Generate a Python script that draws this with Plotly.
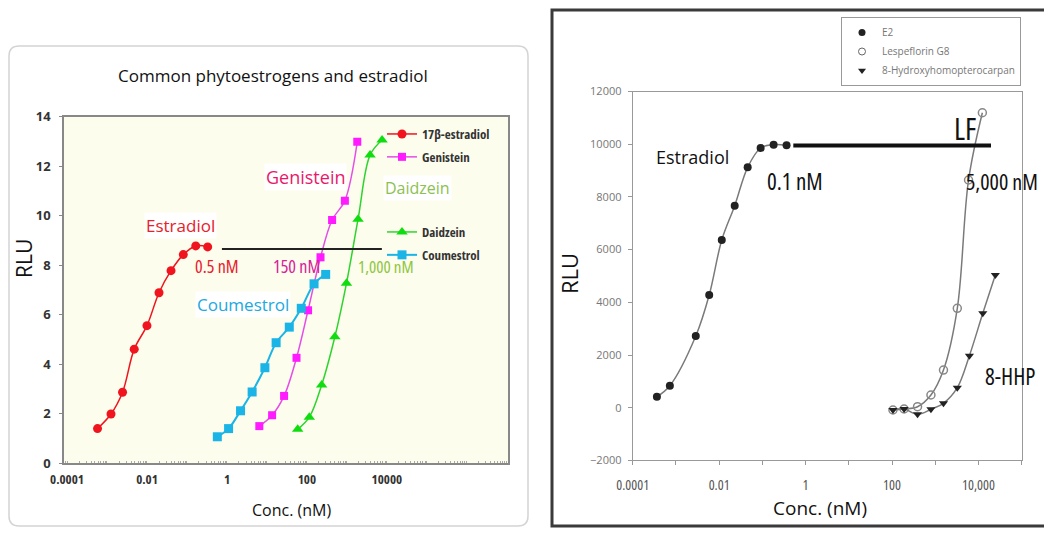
import plotly.graph_objects as go

# The page body adds an 8px margin, so the figure is laid out 8px inside the window.
OFF = 8
W, H = 1052 - 2 * OFF, 536 - 2 * OFF

# ---------------- Left panel data ----------------
estradiol_x = [0.00058, 0.00126, 0.00245, 0.0048, 0.01, 0.02, 0.04, 0.081, 0.166, 0.33]
estradiol_y = [1.39, 1.98, 2.86, 4.6, 5.55, 6.88, 7.77, 8.42, 8.77, 8.73]

genistein_x = [6.46, 13.5, 26.9, 55, 107, 219, 427, 891, 1820]
genistein_y = [1.49, 1.93, 2.71, 4.25, 6.17, 8.31, 9.82, 10.6, 12.98]

daidzein_x = [58.9, 115, 234, 501, 977, 1905, 3800, 7590]
daidzein_y = [1.36, 1.85, 3.15, 5.1, 7.26, 9.85, 12.44, 13.05]

coumestrol_x = [0.575, 1.1, 2.19, 4.27, 8.9, 17, 36.3, 72.4, 151, 295]
coumestrol_y = [1.06, 1.39, 2.11, 2.87, 3.85, 4.86, 5.49, 6.25, 7.24, 7.62]

ref_left_x = [0.75, 7500]
ref_left_y = [8.65, 8.65]

left_tickvals = [1e-4, 1e-2, 1, 1e2, 1e4]
left_ticktext = ["0.0001", "0.01", "1", "100", "10000"]

# ---------------- Right panel data ----------------
e2_x = [0.000363, 0.000724, 0.00288, 0.00589, 0.0115, 0.0229, 0.0457, 0.0912, 0.182, 0.363]
e2_y = [417, 835, 2721, 4277, 6364, 7666, 9123, 9856, 9981, 9958]

lf_x = [105, 190, 389, 794, 1549, 3236, 5888, 12300]
lf_y = [-87, -49, 38, 482, 1430, 3772, 8641, 11194]

hhp_x = [105, 190, 389, 794, 1549, 3236, 6166, 12590, 24550]
hhp_y = [-87, -49, -250, -61, 167, 759, 1973, 3582, 5036]

ref_right_x = [0.52, 19500]
ref_right_y = [9950, 9950]

right_tickvals = [1e-4, 1e-3, 1e-2, 1e-1, 1, 10, 1e2, 1e3, 1e4, 1e5]
right_ticktext = ["0.0001", "", "0.01", "", "1", "", "100", "", "10,000", ""]


def px(x):
    return (x - OFF) / W


def py(y):
    return 1 - (y - OFF) / H


SANS = "Open Sans, Noto Sans, sans-serif"


def cond(t):
    return f"<span style='font-stretch:condensed'>{t}</span>" if t else t


fig = go.Figure()

RED, MAG, GRN, CYN = "#f0141e", "#ff1aff", "#10dd10", "#1ab4e6"

fig.add_trace(go.Scatter(x=estradiol_x, y=estradiol_y, mode="lines+markers", name=cond("17β-estradiol"),
                         line=dict(color=RED, width=1.5, shape="spline"),
                         marker=dict(symbol="circle", size=9, color=RED),
                         xaxis="x", yaxis="y", legend="legend", legendgroup="a"))
fig.add_trace(go.Scatter(x=genistein_x, y=genistein_y, mode="lines+markers", name=cond("Genistein"),
                         line=dict(color="#e64ce6", width=1.5, shape="spline"),
                         marker=dict(symbol="square", size=8, color=MAG),
                         xaxis="x", yaxis="y", legend="legend", legendgroup="b"))
fig.add_trace(go.Scatter(x=daidzein_x, y=daidzein_y, mode="lines+markers", name=cond("Daidzein"),
                         line=dict(color="#2ed42e", width=1.5, shape="spline"),
                         marker=dict(symbol="triangle-up", size=10, color=GRN),
                         xaxis="x", yaxis="y", legend="legend2", legendgroup="c"))
fig.add_trace(go.Scatter(x=coumestrol_x, y=coumestrol_y, mode="lines+markers", name=cond("Coumestrol"),
                         line=dict(color=CYN, width=2, shape="spline"),
                         marker=dict(symbol="square", size=9, color=CYN),
                         xaxis="x", yaxis="y", legend="legend2", legendgroup="d"))
fig.add_trace(go.Scatter(x=ref_left_x, y=ref_left_y, mode="lines", showlegend=False,
                         line=dict(color="#222222", width=2), xaxis="x", yaxis="y"))

GRAY_LINE = "#7a7a7a"
fig.add_trace(go.Scatter(x=e2_x, y=e2_y, mode="lines+markers", showlegend=False,
                         line=dict(color=GRAY_LINE, width=1.5, shape="spline"),
                         marker=dict(symbol="circle", size=8, color="#222"),
                         xaxis="x2", yaxis="y2"))
fig.add_trace(go.Scatter(x=lf_x, y=lf_y, mode="lines+markers", showlegend=False,
                         line=dict(color=GRAY_LINE, width=1.5, shape="spline"),
                         marker=dict(symbol="circle-open", size=8, color="#888", line=dict(width=1.5)),
                         xaxis="x2", yaxis="y2"))
fig.add_trace(go.Scatter(x=hhp_x, y=hhp_y, mode="lines+markers", showlegend=False,
                         line=dict(color=GRAY_LINE, width=1.5, shape="spline"),
                         marker=dict(symbol="triangle-down", size=8, color="#222"),
                         xaxis="x2", yaxis="y2"))
fig.add_trace(go.Scatter(x=ref_right_x, y=ref_right_y, mode="lines", showlegend=False,
                         line=dict(color="#111", width=4), xaxis="x2", yaxis="y2"))

for nm, sym, col in [("E2", "circle", "#222"), ("Lespeflorin G8", "circle-open", "#666"),
                     ("8-Hydroxyhomopterocarpan", "triangle-down", "#222")]:
    fig.add_trace(go.Scatter(x=[None], y=[None], mode="markers", name=nm,
                             marker=dict(symbol=sym, size=7, color=col),
                             xaxis="x2", yaxis="y2", legend="legend3"))

leg_font = dict(family=SANS, size=13, color="#333", weight="bold")

fig.update_layout(
    width=W, height=H,
    margin=dict(l=0, r=0, t=0, b=0, autoexpand=False),
    paper_bgcolor="white", plot_bgcolor="rgba(0,0,0,0)",
    showlegend=True,
    legend=dict(x=px(382), y=py(119), xanchor="left", yanchor="top", bgcolor="rgba(0,0,0,0)",
                font=leg_font, itemwidth=30, tracegroupgap=3, borderwidth=0),
    legend2=dict(x=px(382), y=py(217), xanchor="left", yanchor="top", bgcolor="rgba(0,0,0,0)",
                 font=leg_font, itemwidth=30, tracegroupgap=3, borderwidth=0),
    legend3=dict(x=px(841), y=py(17), xanchor="left", yanchor="top", bgcolor="white",
                 bordercolor="#999", borderwidth=1, tracegroupgap=0,
                 font=dict(family=SANS, size=10, color="#777"), itemwidth=30),
    xaxis=dict(type="log", range=[-4.075, 7.03], domain=[px(64), px(508)], anchor="y",
               tickvals=left_tickvals, ticktext=[cond(t) for t in left_ticktext], ticks="",
               ticklabelstandoff=4,
               tickfont=dict(family=SANS, size=13, color="#333", weight="bold"),
               minor=dict(ticks="inside", ticklen=2, tickcolor="#aaa", dtick="D1"),
               showgrid=False, zeroline=False, showline=True, linecolor="#888", linewidth=1.5,
               mirror=True, automargin=False),
    yaxis=dict(range=[0, 14], dtick=2, domain=[py(463), py(116.5)], anchor="x",
               ticks="outside", ticklen=3, tickcolor="#888", ticklabelstandoff=6,
               tickfont=dict(family=SANS, size=13, color="#333", weight="bold"),
               showgrid=False, zeroline=False, showline=True, linecolor="#888", linewidth=1.5,
               mirror=True, automargin=False),
    xaxis2=dict(type="log", range=[-4, 5], domain=[px(632.7), px(1021.7)], anchor="y2",
                tickvals=right_tickvals, ticktext=[cond(t) for t in right_ticktext], ticks="outside", ticklen=4,
                tickcolor="#999", ticklabelstandoff=8,
                tickfont=dict(family=SANS, size=14, color="#555"),
                showgrid=False, zeroline=False, showline=True, linecolor="#999", linewidth=1,
                mirror=True, automargin=False),
    yaxis2=dict(range=[-2000, 12000], dtick=2000, domain=[py(460.4), py(91.5)], anchor="x2",
                ticks="outside", ticklen=4, tickcolor="#999", tickformat="d", ticklabelstandoff=4,
                tickfont=dict(family=SANS, size=11, color="#777"),
                showgrid=False, zeroline=False, showline=True, linecolor="#999", linewidth=1,
                mirror=True, automargin=False),
)

shapes = []
x0, y0, x1, y1, r = 9, 46, 528, 526, 10
path = (f"M {px(x0 + r)},{py(y0)} L {px(x1 - r)},{py(y0)} Q {px(x1)},{py(y0)} {px(x1)},{py(y0 + r)} "
        f"L {px(x1)},{py(y1 - r)} Q {px(x1)},{py(y1)} {px(x1 - r)},{py(y1)} "
        f"L {px(x0 + r)},{py(y1)} Q {px(x0)},{py(y1)} {px(x0)},{py(y1 - r)} "
        f"L {px(x0)},{py(y0 + r)} Q {px(x0)},{py(y0)} {px(x0 + r)},{py(y0)} Z")
shapes.append(dict(type="path", path=path, xref="paper", yref="paper",
                   line=dict(color="#d4d4d4", width=1.5), layer="below"))
shapes.append(dict(type="rect", xref="x domain", yref="y domain", x0=0, x1=1, y0=0, y1=1,
                   fillcolor="#fdfdee", line=dict(width=0), layer="below"))
shapes.append(dict(type="rect", xref="paper", yref="paper", x0=px(552), x1=px(1070),
                   y0=py(526), y1=py(10), line=dict(color="#3a3a3a", width=3)))
fig.update_layout(shapes=shapes)

ann = []


def A(text, x, y, size, color, bg=None, weight="normal", **kw):
    d = dict(text=text, x=px(x), y=py(y), xref="paper", yref="paper", showarrow=False,
             font=dict(family=SANS, size=size, color=color, weight=weight),
             xanchor="center", yanchor="middle")
    if bg:
        d["bgcolor"] = bg
    d.update(kw)
    ann.append(d)


A("Common phytoestrogens and estradiol", 273, 75, 17, "#111")
A("RLU", 24, 259, 21, "#111", textangle=-90)
A("Conc. (nM)", 291, 510, 16, "#111")
A("Estradiol", 180, 225, 17, "#e8202a", bg="white")
A("Genistein", 305, 177, 18, "#e8196a", bg="white")
A("Daidzein", 417, 188, 16, "#8cc152", bg="white")
A("Coumestrol", 243, 304, 17, "#21a8e0", bg="white")
A(cond("0.5 nM"), 217, 266, 18, "#e8202a")
A(cond("150 nM"), 296, 266, 18, "#d6219a")
A(cond("1,000 nM"), 386, 266, 17, "#8dc63f")

A("RLU", 569, 274, 22, "#111", textangle=-90)
A("Conc. (nM)", 820, 508, 19, "#111")
A("Estradiol", 692, 157, 18, "#111")
A(cond("0.1 nM"), 795, 181, 23, "#111")
A(cond("LF"), 965, 128, 30, "#111")
A(cond("5,000 nM"), 1002, 181, 22, "#111")
A(cond("8-HHP"), 1010, 376, 23, "#111")

fig.update_layout(annotations=ann)

fig.write_html("out.html")
